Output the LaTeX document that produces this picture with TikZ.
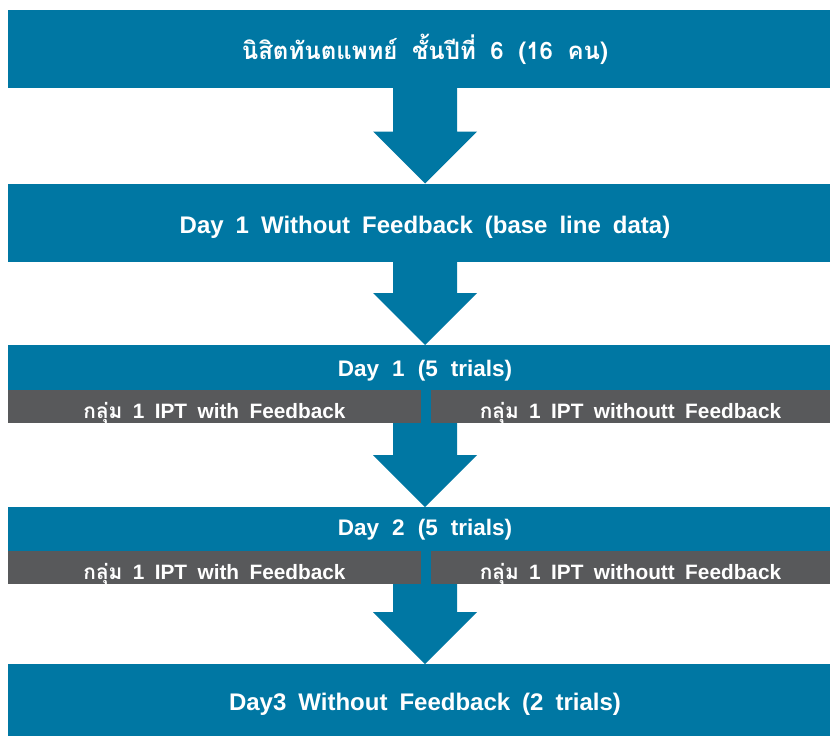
\documentclass[tikz,border=0pt]{standalone}
\usepackage{fontspec}
\setmainfont[WordSpace={1.8}]{Liberation Sans}
\newfontfamily\headfont[WordSpace={2.1}]{Liberation Sans}
\newfontfamily\thaifont[Script=Thai,WordSpace={1.8}]{Loma}
\usetikzlibrary{calc}
\definecolor{flowblue}{RGB}{0,119,163}
\definecolor{bargray}{RGB}{88,89,91}
\tikzset{
  blk/.style={rectangle, fill=flowblue, inner sep=0pt, outer sep=0pt, text=white,
    font=\bfseries\fontsize{24}{28}\selectfont, minimum width=834pt, anchor=north west},
  sublbl/.style={inner sep=0pt, text=white, text height=15.5pt, text depth=0pt,
    font=\headfont\bfseries\fontsize{22.5}{26}\selectfont},
  gbar/.style={rectangle, fill=bargray, inner sep=0pt, outer sep=0pt, text=white,
    text height=23pt, text depth=0pt,
    font=\bfseries\fontsize{20.8}{24}\selectfont, minimum height=33pt, anchor=north west},
}
\newcommand{\flowarrow}[2]{%
  \fill[flowblue] let \p1=(#1.south), \p2=(#2.north) in
    (\x1-32,\y1) -- (\x1+32,\y1) -- (\x1+32,\y2+52) -- (\x1+52,\y2+52) --
    (\x1,\y2) -- (\x1-52,\y2+52) -- (\x1-32,\y2+52) -- cycle;}
\begin{document}
\begin{tikzpicture}[x=1pt,y=1pt]
\useasboundingbox (0,0) rectangle (830,-736);
\fill[white] (0,0) rectangle (830,-736);
% boxes
\node[blk, minimum height=78pt] (b1) at (8,-10) {\thaifont นิสิตทันตแพทย์ ชั้นปีที่ 6 (16 คน)};
\node[blk, minimum height=78.5pt, text height=22pt, text depth=0pt] (b2) at (8,-183.5) {Day 1 Without Feedback (base line data)};
\node[blk, minimum height=78pt] (b3) at (8,-345) {};
\node[sublbl] (d1) at (425,-368.5) {Day 1 (5 trials)};
\node[gbar, minimum width=413pt] (g1l) at (8,-390) {{\thaifont กลุ่ม} 1 IPT with Feedback};
\node[gbar, minimum width=399pt] (g1r) at (431,-390) {{\thaifont กลุ่ม} 1 IPT withoutt Feedback};
\node[blk, minimum height=77pt] (b4) at (8,-507) {};
\node[sublbl] (d2) at (425,-527.5) {Day 2 (5 trials)};
\node[gbar, minimum width=413pt] (g2l) at (8,-551) {{\thaifont กลุ่ม} 1 IPT with Feedback};
\node[gbar, minimum width=399pt] (g2r) at (431,-551) {{\thaifont กลุ่ม} 1 IPT withoutt Feedback};
\node[blk, minimum height=72pt, text height=20pt, text depth=0pt] (b5) at (8,-664) {Day3 Without Feedback (2 trials)};
% arrows
\flowarrow{b1}{b2}
\flowarrow{b2}{b3}
\flowarrow{b3}{b4}
\flowarrow{b4}{b5}
\end{tikzpicture}
\end{document}
